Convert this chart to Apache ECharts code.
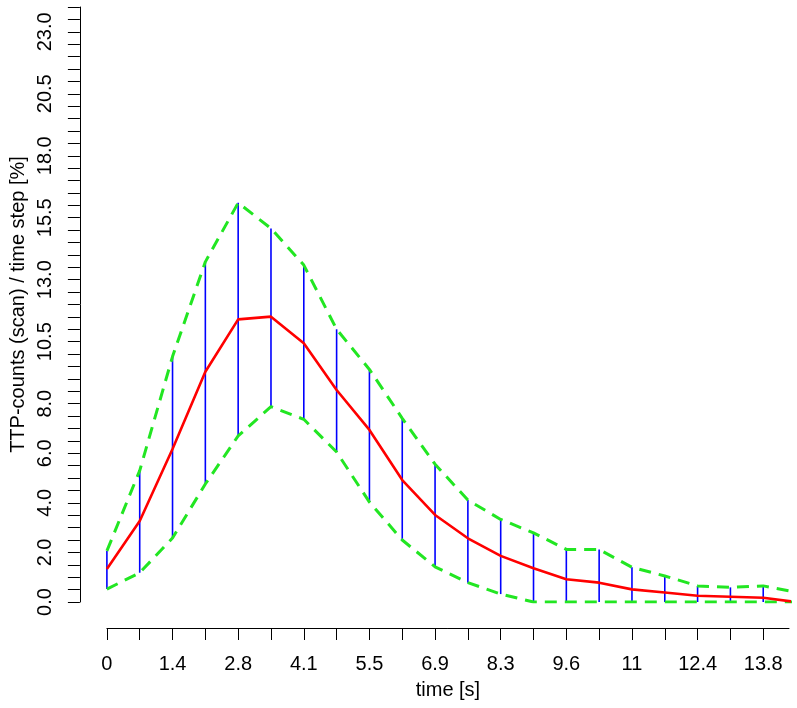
<!DOCTYPE html>
<html>
<head>
<meta charset="utf-8">
<script src="https://cdn.jsdelivr.net/npm/echarts@6/dist/echarts.min.js"></script>
<style>
html,body{margin:0;padding:0;background:#fff;}
#c{width:797px;height:708px;}
</style>
</head>
<body>
<div id="c"></div>
<script>
// time of each step [s]
var times = [0, 0.6875, 1.375, 2.0625, 2.75, 3.4375, 4.125, 4.8125, 5.5, 6.1875, 6.875,
  7.5625, 8.25, 8.9375, 9.625, 10.3125, 11, 11.6875, 12.375, 13.0625, 13.75, 14.4375];
// mean TTP-counts per time step [%]
var meanVals = [1.33, 3.27, 6.17, 9.29, 11.40, 11.51, 10.44, 8.55, 6.94, 4.92, 3.51,
  2.57, 1.86, 1.36, 0.92, 0.78, 0.51, 0.38, 0.25, 0.21, 0.17, 0.0];
// upper band
var upperVals = [2.06, 5.30, 9.90, 13.72, 16.10, 15.07, 13.59, 11.00, 9.38, 7.41, 5.56,
  4.11, 3.33, 2.79, 2.12, 2.12, 1.40, 1.05, 0.65, 0.59, 0.65, 0.40];
// lower band
var lowerVals = [0.52, 1.18, 2.58, 4.76, 6.70, 7.88, 7.37, 6.05, 4.03, 2.50, 1.42,
  0.78, 0.32, 0, 0, 0, 0, 0, 0, 0, 0, 0];

// x tick labels (every second step)
var xLabelValues = [0, 1.375, 2.75, 4.125, 5.5, 6.875, 8.25, 9.625, 11, 12.375, 13.75];
var xLabelTexts = ['0', '1.4', '2.8', '4.1', '5.5', '6.9', '8.3', '9.6', '11', '12.4', '13.8'];
// y tick labels
var yLabelValues = [0, 2, 4, 6, 8, 10.5, 13, 15.5, 18, 20.5, 23];
var yLabelTexts = ['0.0', '2.0', '4.0', '6.0', '8.0', '10.5', '13.0', '15.5', '18.0', '20.5', '23.0'];
// tick marks
var xTickValues = times.slice(0, 21);
var yTickValues = [];
for (var k = 0; k <= 48; k++) yTickValues.push(k * 0.5);

var FONT = "'Liberation Sans', Arial, Helvetica, sans-serif";

var meanData = times.map(function (t, i) { return [t, meanVals[i]]; });
var upperData = times.map(function (t, i) { return [t, upperVals[i]]; });
var lowerData = times.map(function (t, i) { return [t, lowerVals[i]]; });
var barData = times.map(function (t, i) { return [t, lowerVals[i], upperVals[i]]; });

var chart = echarts.init(document.getElementById('c'), null, {renderer: 'canvas'});
chart.setOption({
  animation: false,
  backgroundColor: '#ffffff',
  grid: {left: 104, right: 8, top: 7, bottom: 106, containLabel: false},
  xAxis: {
    type: 'value', min: 0, max: 14.29, offset: 26,
    name: 'time [s]', nameLocation: 'middle', nameGap: 52,
    nameTextStyle: {fontFamily: FONT, fontSize: 20, color: '#000'},
    splitLine: {show: false},
    axisLine: {show: true, onZero: false, lineStyle: {color: '#000', width: 1}},
    axisTick: {show: true, length: 12, inside: false, customValues: xTickValues,
      lineStyle: {color: '#000', width: 1}},
    axisLabel: {show: true, customValues: xLabelValues, margin: 26,
      fontFamily: FONT, fontSize: 20, color: '#000',
      formatter: function (v) {
        for (var i = 0; i < xLabelValues.length; i++) {
          if (Math.abs(xLabelValues[i] - v) < 1e-6) return xLabelTexts[i];
        }
        return '';
      }}
  },
  yAxis: {
    type: 'value', min: 0, max: 24, offset: 27,
    name: 'TTP-counts (scan) / time step [%]', nameLocation: 'middle', nameGap: 50,
    nameRotate: 90,
    nameTextStyle: {fontFamily: FONT, fontSize: 20, color: '#000'},
    splitLine: {show: false},
    axisLine: {show: true, onZero: false, lineStyle: {color: '#000', width: 1}},
    axisTick: {show: true, length: 12, inside: false, customValues: yTickValues,
      lineStyle: {color: '#000', width: 1}},
    axisLabel: {show: true, customValues: yLabelValues, margin: 24, rotate: 90,
      fontFamily: FONT, fontSize: 20, color: '#000',
      formatter: function (v) {
        for (var i = 0; i < yLabelValues.length; i++) {
          if (Math.abs(yLabelValues[i] - v) < 1e-6) return yLabelTexts[i];
        }
        return '';
      }}
  },
  series: [
    {
      type: 'custom', clip: true, data: barData,
      encode: {x: 0, y: [1, 2]},
      renderItem: function (params, api) {
        var p1 = api.coord([api.value(0), api.value(1)]);
        var p2 = api.coord([api.value(0), api.value(2)]);
        return {type: 'line', shape: {x1: p1[0], y1: p1[1], x2: p2[0], y2: p2[1]},
          style: {stroke: '#0000ff', lineWidth: 1.6}};
      },
      z: 1
    },
    {
      type: 'line', data: upperData, showSymbol: false, symbol: 'none', clip: true,
      lineStyle: {color: '#22e622', width: 3, type: [12, 8]}, z: 2
    },
    {
      type: 'line', data: lowerData, showSymbol: false, symbol: 'none', clip: true,
      lineStyle: {color: '#22e622', width: 3, type: [12, 8]}, z: 2
    },
    {
      type: 'line', data: meanData, showSymbol: false, symbol: 'none', clip: true,
      lineStyle: {color: '#ff0000', width: 2.6}, z: 3
    }
  ]
});
</script>
</body>
</html>
